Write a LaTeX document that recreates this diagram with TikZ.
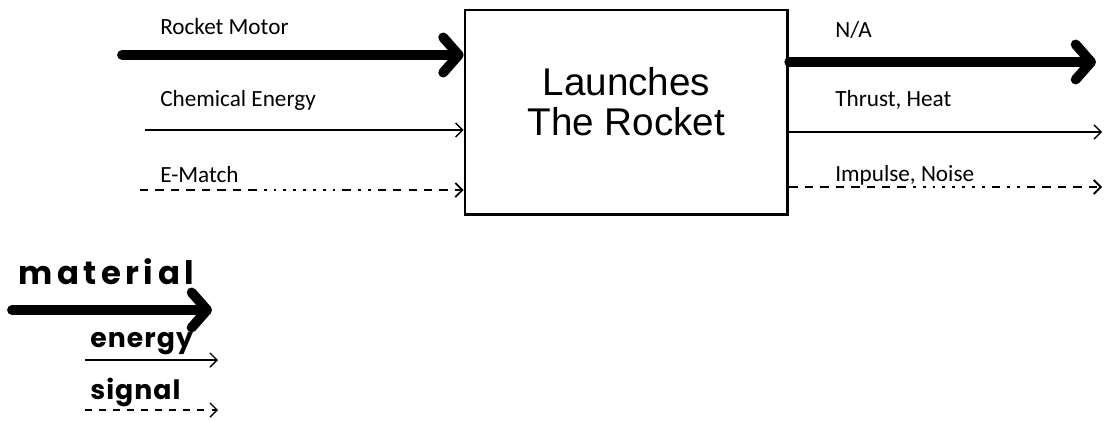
\documentclass[tikz,border=0pt]{standalone}
\usepackage{fontspec}
\usepackage{tikz}
\usetikzlibrary{arrows.meta, positioning}

\setmainfont{Carlito}
\newfontfamily\boxfont{Liberation Sans}
\newfontfamily\handfont[LetterSpace=14]{Poppins}
\newfontfamily\handfontb[LetterSpace=4]{Poppins}

\tikzset{
    material/.style={line width=7pt, line cap=round,
        -{Straight Barb[round, length=11pt, width=25pt]}},
    energy/.style={line width=1pt, -{Straight Barb[length=5pt, width=10pt]}},
    signal/.style={line width=1.3pt, -{Straight Barb[length=5pt, width=10pt]},
        dash pattern={on 6pt off 5pt on 6pt off 5pt on 6pt off 5pt on 6pt off 5pt
            on 6pt off 5pt on 6pt off 5pt on 6pt off 5pt on 6pt off 5pt
            on 2pt off 5pt on 2pt off 5pt on 2pt off 5pt on 2pt off 5pt
            on 2pt off 5pt on 2pt off 5pt on 2pt off 5pt on 2pt off 5pt
            on 6pt off 5pt on 2pt off 5pt on 2pt off 5pt}},
    lbl/.style={anchor=west, inner sep=0pt, font=\fontsize{16.5}{19}\selectfont},
    hand/.style={inner sep=0pt, anchor=west}
}

\begin{document}
\begin{tikzpicture}
    \useasboundingbox (0,0) rectangle (27.6,10.5);

    % the function block
    \node[draw, line width=2pt, minimum width=8.07cm, minimum height=5.12cm] (proc)
        at (15.66,7.69) {};
    \node[align=center, inner sep=0pt, font=\boxfont\fontsize{27.5}{28.5}\selectfont]
        (procTxt) at ([yshift=0.27cm]proc.center) {Launches\\The Rocket};

    % inputs
    \coordinate (mIn) at (3.05,9.125);
    \coordinate (eIn) at (3.625,7.25);
    \coordinate (sIn) at (3.5,5.75);
    \node[lbl] (mInLbl) at (4.0,9.825) {Rocket Motor};
    \node[lbl] (eInLbl) at (4.0,8.0) {Chemical Energy};
    \node[lbl] (sInLbl) at (4.0,6.125) {E-Match};

    \draw[material] (mIn) -- (mIn -| proc.west);
    \draw[energy] (eIn) -- (eIn -| proc.west);
    \draw[signal] (sIn) -- (sIn -| proc.west);

    % outputs
    \coordinate (mOut) at (27.4,8.95);
    \coordinate (eOut) at (27.55,7.2);
    \coordinate (sOut) at (27.55,5.825);
    \node[lbl] (mOutLbl) at (20.875,9.75) {N/A};
    \node[lbl] (eOutLbl) at (20.875,8.0) {Thrust, Heat};
    \node[lbl] (sOutLbl) at (20.875,6.125) {Impulse, Noise};

    \draw[material] (mOut -| proc.east) -- (mOut);
    \draw[energy] (eOut -| proc.east) -- (eOut);
    \draw[signal] (sOut -| proc.east) -- (sOut);

    % key
    \coordinate (kmA) at (0.3,2.75);
    \coordinate (kmB) at (5.3,2.75);
    \coordinate (keA) at (2.125,1.5);
    \coordinate (keB) at (5.45,1.5);
    \coordinate (ksA) at (2.125,0.25);
    \coordinate (ksB) at (5.45,0.25);
    \node[hand, font=\handfont\bfseries\fontsize{23}{26}\selectfont] (kmLbl)
        at (0.45,3.7) {material};
    \node[hand, font=\handfontb\bfseries\fontsize{19}{22}\selectfont] (keLbl)
        at (2.25,1.9) {energy};
    \node[hand, font=\handfontb\bfseries\fontsize{19}{22}\selectfont] (ksLbl)
        at (2.25,0.7) {signal};

    \draw[material] (kmA) -- (kmB);
    \draw[energy] (keA) -- (keB);
    \draw[energy, dash pattern=on 5pt off 5pt] (ksA) -- (ksB);
\end{tikzpicture}
\end{document}
